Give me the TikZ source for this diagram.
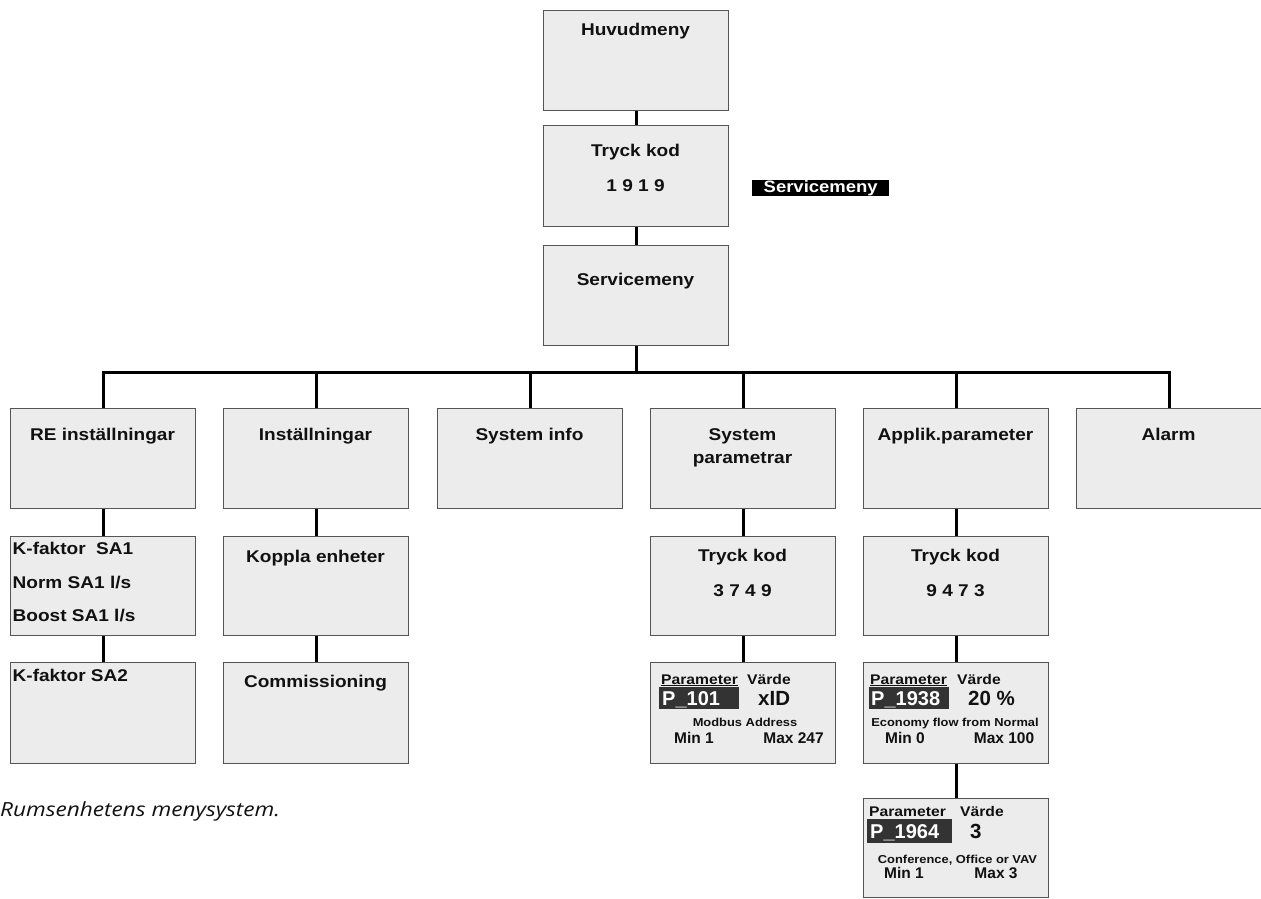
\documentclass[tikz,border=0pt]{standalone}
\usepackage{fontspec}
\setmainfont{Liberation Sans}[FakeStretch=1.12]
\newfontfamily\pfont{Liberation Sans}
\newfontfamily\capfont{Open Sans}[FakeStretch=1.16]
\definecolor{boxgray}{HTML}{ECECEC}
\definecolor{boxline}{HTML}{555555}
\definecolor{txt}{HTML}{111111}
\definecolor{pfill}{HTML}{333333}
\begin{document}
\begin{tikzpicture}[x=1pt,y=-1pt,
  mbox/.style={draw=boxline, fill=boxgray, line width=1pt, minimum width=185pt, minimum height=100pt, inner sep=0pt, anchor=north west},
  lbl/.style={font=\fontsize{17}{20}\selectfont\bfseries, text=txt, inner sep=0pt, anchor=base},
  lbll/.style={lbl, anchor=base west},
  conn/.style={line width=3pt, black},
  ph/.style={font=\fontsize{14}{16}\selectfont\bfseries, text=txt, inner sep=0pt, anchor=base west},
  pv/.style={font=\pfont\fontsize{20.5}{22}\selectfont\bfseries, text=txt, inner sep=0pt, anchor=base west},
  pid/.style={font=\pfont\fontsize{20}{22}\selectfont\bfseries, text=white, fill=pfill, inner ysep=1.5pt, align=left, anchor=north west, text height=16.5pt, text depth=2.5pt},
  pd/.style={font=\fontsize{11.5}{13}\selectfont\bfseries, text=txt, inner sep=0pt, anchor=base},
  pm/.style={font=\pfont\fontsize{15.5}{17}\selectfont\bfseries, text=txt, inner sep=0pt, anchor=base}
]
\useasboundingbox (0,0) rectangle (1261,898);

% main column
\node[mbox] (huv) at (543,10) {};
\node[mbox, minimum height=101pt] (kod) at (543,125) {};
\node[mbox] (svc) at (543,245) {};
\node[lbl] (huvt) at (635.5,35) {Huvudmeny};
\node[lbl] (kodt) at (635.5,156.7) {Tryck kod};
\node[lbl] (kodn) at (635.5,191.7) {1 9 1 9};
\node[lbl] (svct) at (635.5,285.7) {Servicemeny};
\node[font=\fontsize{16.5}{18}\selectfont\bfseries, text=white, fill=black, minimum width=137pt, minimum height=16pt, inner sep=0pt, anchor=north west] (svlab) at (752,180) {Servicemeny};

% row 2
\node[mbox] (c1) at (10,408) {};
\node[mbox] (c2) at (223,408) {};
\node[mbox] (c3) at (437,408) {};
\node[mbox] (c4) at (650,408) {};
\node[mbox] (c5) at (863,408) {};
\node[mbox] (c6) at (1076,408) {};
\node[lbl] (c1t) at (102.5,440.5) {RE inställningar};
\node[lbl] (c2t) at (315.5,440.5) {Inställningar};
\node[lbl] (c3t) at (529.5,440.5) {System info};
\node[lbl] (c4t) at (742.5,440.5) {System};
\node[lbl] (c4u) at (742.5,463) {parametrar};
\node[lbl] (c5t) at (955.5,440.5) {Applik.parameter};
\node[lbl] (c6t) at (1168.5,440.5) {Alarm};

% row 3
\node[mbox, minimum height=99pt] (r1) at (10,536) {};
\node[mbox, minimum height=99pt] (r2) at (223,536) {};
\node[mbox, minimum height=99pt] (r4) at (650,536) {};
\node[mbox, minimum height=99pt] (r5) at (863,536) {};
\node[lbll] (r1a) at (12.5,554.3) {K-faktor\ \ SA1};
\node[lbll] (r1b) at (12.5,588) {Norm SA1 l/s};
\node[lbll] (r1c) at (12.5,621) {Boost SA1 l/s};
\node[lbl] (r2t) at (315.5,562) {Koppla enheter};
\node[lbl] (r4t) at (742.5,561.7) {Tryck kod};
\node[lbl] (r4n) at (742.5,596) {3 7 4 9};
\node[lbl] (r5t) at (955.5,561.7) {Tryck kod};
\node[lbl] (r5n) at (955.5,596) {9 4 7 3};

% row 4
\node[mbox, minimum height=101pt] (s1) at (10,662) {};
\node[mbox, minimum height=101pt] (s2) at (223,662) {};
\node[mbox, minimum height=101pt] (s4) at (650,662) {};
\node[mbox, minimum height=101pt] (s5) at (863,662) {};
\node[lbll] (s1t) at (12.5,681.7) {K-faktor SA2};
\node[lbl] (s2t) at (315.5,687.7) {Commissioning};

% parameter box P_101
\node[ph] (s4h) at (661,684) {\underline{Parameter}};
\node[ph] (s4v) at (747,684) {Värde};
\node[pid, inner xsep=3pt, text width=74pt] (s4p) at (659,687) {P\_101};
\node[pv] (s4x) at (758,705) {xID};
\node[pd] (s4d) at (745,726) {Modbus Address};
\node[pm] (s4m) at (694,743.7) {Min 1};
\node[pm] (s4M) at (793.5,743.7) {Max 247};

% parameter box P_1938
\node[ph] (s5h) at (870,684) {\underline{Parameter}};
\node[ph] (s5v) at (957,684) {Värde};
\node[pid, inner xsep=2pt, text width=76pt] (s5p) at (869,687) {P\_1938};
\node[pv] (s5x) at (968,705) {20 \%};
\node[pd] (s5d) at (955,726) {Economy flow from Normal};
\node[pm] (s5m) at (905,743.7) {Min 0};
\node[pm] (s5M) at (1004,743.7) {Max 100};

% parameter box P_1964
\node[mbox, minimum height=99pt] (t5) at (863,798) {};
\node[ph] (t5h) at (869,816) {Parameter};
\node[ph] (t5v) at (960,816) {Värde};
\node[pid, inner xsep=3pt, text width=79pt, text height=17.5pt, text depth=3.5pt] (t5p) at (867,819) {P\_1964};
\node[pv] (t5x) at (970,838) {3};
\node[pd] (t5d) at (957.5,863) {Conference, Office or VAV};
\node[pm] (t5m) at (904,878) {Min 1};
\node[pm] (t5M) at (996,878) {Max 3};

% caption
\node[font=\capfont\itshape\fontsize{19.5}{21}\selectfont, text=txt, anchor=base west, inner sep=0pt] (cap) at (0,816) {Rumsenhetens menysystem.};

% connectors
\coordinate (bar) at (0,372);
\draw[conn] (huv.south) -- (kod.north);
\draw[conn] (kod.south) -- (svc.north);
\draw[conn] (svc.south) -- (svc.south |- bar);
\draw[conn] (c1.north) -- (c1.north |- bar) -- (c6.north |- bar) -- (c6.north);
\draw[conn] (c2.north) -- (c2.north |- bar);
\draw[conn] (c3.north) -- (c3.north |- bar);
\draw[conn] (c4.north) -- (c4.north |- bar);
\draw[conn] (c5.north) -- (c5.north |- bar);
\draw[conn] (c1.south) -- (r1.north);
\draw[conn] (r1.south) -- (s1.north);
\draw[conn] (c2.south) -- (r2.north);
\draw[conn] (r2.south) -- (s2.north);
\draw[conn] (c4.south) -- (r4.north);
\draw[conn] (r4.south) -- (s4.north);
\draw[conn] (c5.south) -- (r5.north);
\draw[conn] (r5.south) -- (s5.north);
\draw[conn] (s5.south) -- (t5.north);
\end{tikzpicture}
\end{document}
